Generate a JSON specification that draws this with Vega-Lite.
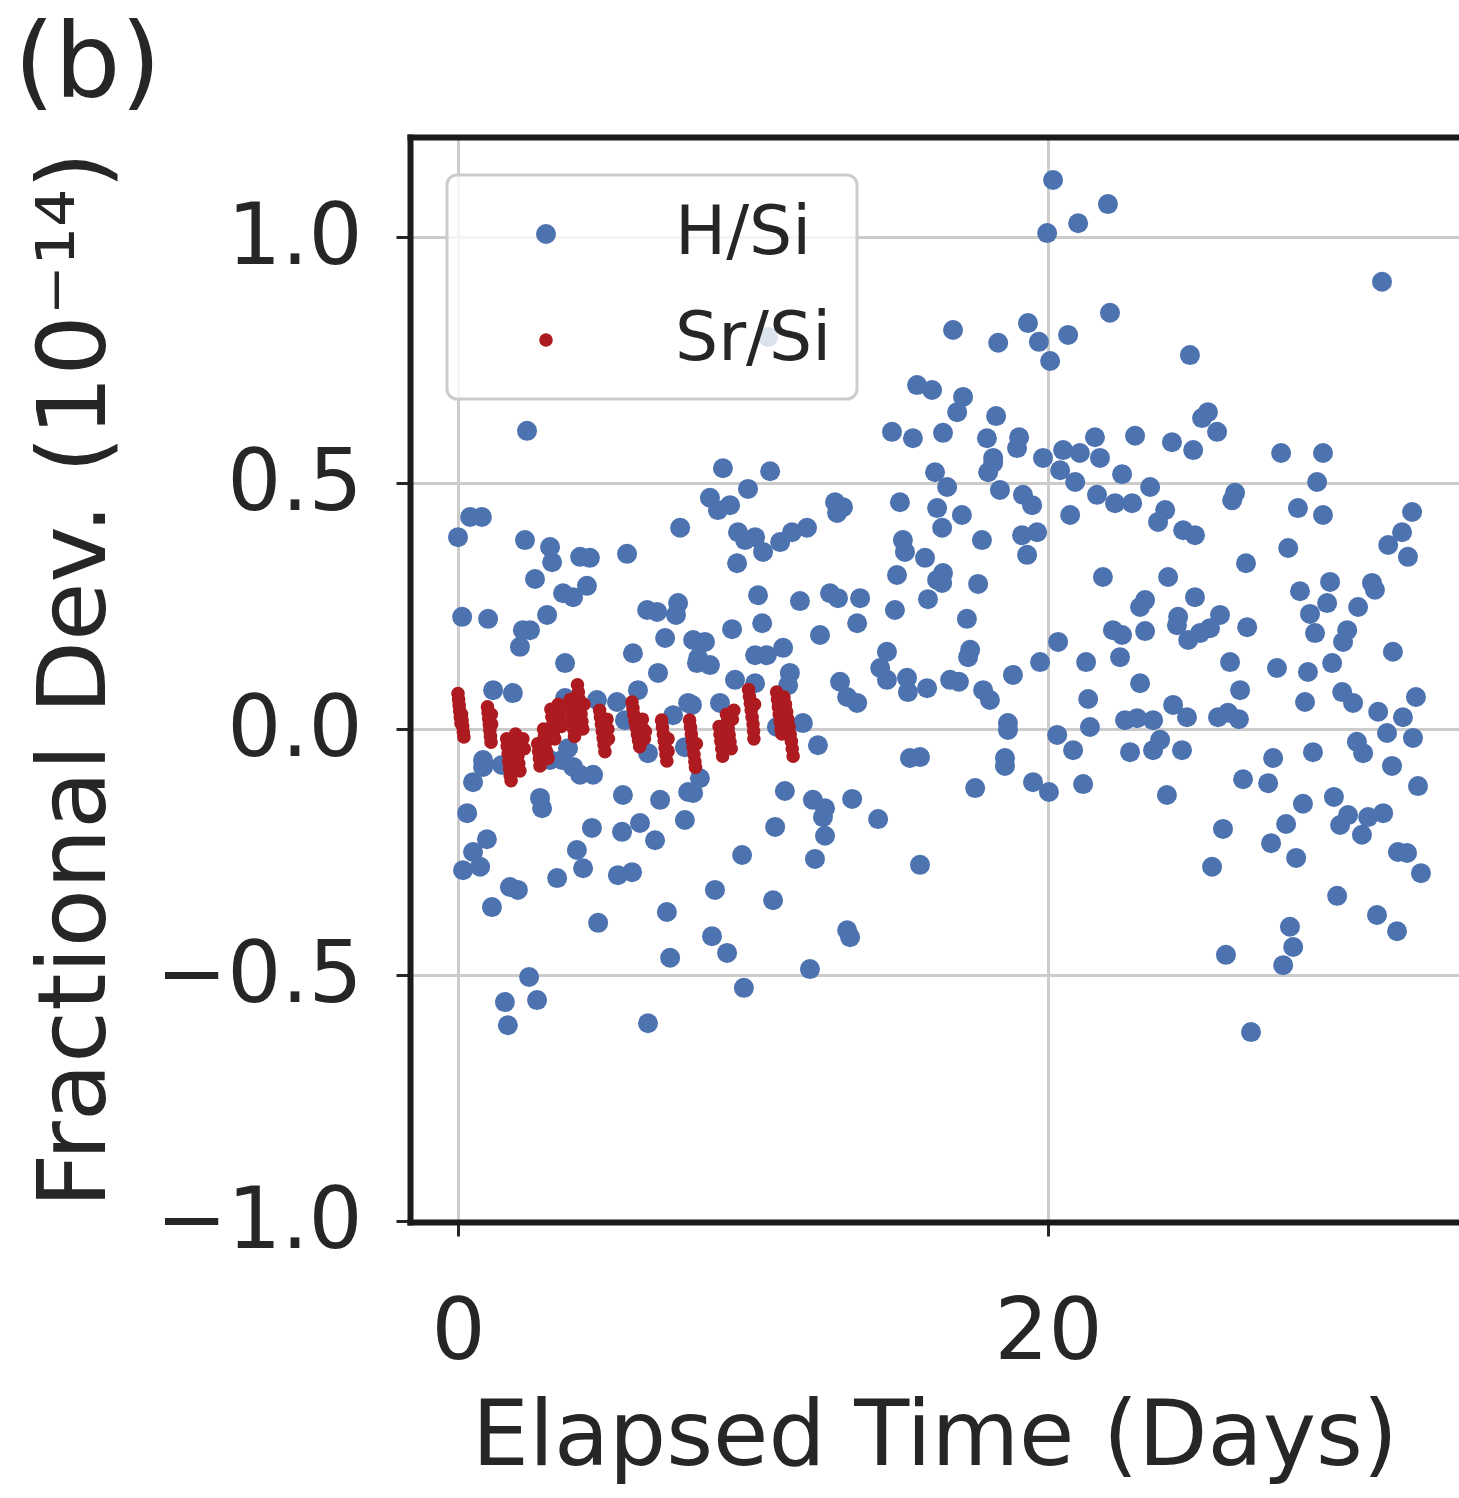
{
"$schema": "https://vega.github.io/schema/vega-lite/v6.json",
"width": 1049, "height": 1085,
"autosize": {"type": "none"},
"padding": {"left": 410, "top": 137, "right": 0, "bottom": 276},
"background": "white",
"title": {"text": "(b)", "anchor": "start", "frame": "group", "fontSize": 104, "font": "DejaVu Sans", "fontWeight": "normal", "color": "#262626", "offset": 42, "baseline": "alphabetic", "dx": -396, "dy": 106},
"data": {"values": [
{"t":0.41,"d":0.431,"s":"H/Si"},{"t":0.81,"d":0.431,"s":"H/Si"},{"t":0.0,"d":0.39,"s":"H/Si"},{"t":2.27,"d":0.384,"s":"H/Si"},{"t":3.12,"d":0.37,"s":"H/Si"},{"t":3.19,"d":0.339,"s":"H/Si"},{"t":4.14,"d":0.35,"s":"H/Si"},{"t":4.47,"d":0.348,"s":"H/Si"},{"t":5.73,"d":0.356,"s":"H/Si"},{"t":7.53,"d":0.409,"s":"H/Si"},
{"t":2.61,"d":0.305,"s":"H/Si"},{"t":3.56,"d":0.276,"s":"H/Si"},{"t":3.9,"d":0.268,"s":"H/Si"},{"t":4.37,"d":0.291,"s":"H/Si"},{"t":0.14,"d":0.228,"s":"H/Si"},{"t":1.02,"d":0.224,"s":"H/Si"},{"t":3.02,"d":0.232,"s":"H/Si"},{"t":2.2,"d":0.201,"s":"H/Si"},{"t":2.44,"d":0.201,"s":"H/Si"},{"t":2.1,"d":0.167,"s":"H/Si"},
{"t":3.63,"d":0.134,"s":"H/Si"},{"t":5.93,"d":0.154,"s":"H/Si"},{"t":6.41,"d":0.242,"s":"H/Si"},{"t":6.75,"d":0.238,"s":"H/Si"},{"t":7.46,"d":0.256,"s":"H/Si"},{"t":7.39,"d":0.232,"s":"H/Si"},{"t":7.02,"d":0.185,"s":"H/Si"},{"t":7.97,"d":0.181,"s":"H/Si"},{"t":8.1,"d":0.134,"s":"H/Si"},{"t":6.78,"d":0.114,"s":"H/Si"},
{"t":1.19,"d":0.079,"s":"H/Si"},{"t":1.86,"d":0.073,"s":"H/Si"},{"t":6.1,"d":0.079,"s":"H/Si"},{"t":7.8,"d":0.053,"s":"H/Si"},{"t":7.29,"d":0.028,"s":"H/Si"},{"t":5.39,"d":0.055,"s":"H/Si"},{"t":4.71,"d":0.059,"s":"H/Si"},{"t":3.63,"d":0.063,"s":"H/Si"},{"t":5.66,"d":0.018,"s":"H/Si"},{"t":3.73,"d":-0.039,"s":"H/Si"},
{"t":0.85,"d":-0.063,"s":"H/Si"},{"t":6.44,"d":-0.049,"s":"H/Si"},{"t":7.69,"d":-0.037,"s":"H/Si"},{"t":0.51,"d":-0.108,"s":"H/Si"},{"t":0.85,"d":-0.077,"s":"H/Si"},{"t":1.49,"d":-0.073,"s":"H/Si"},{"t":0.31,"d":-0.171,"s":"H/Si"},{"t":0.98,"d":-0.224,"s":"H/Si"},{"t":0.51,"d":-0.25,"s":"H/Si"},{"t":0.17,"d":-0.287,"s":"H/Si"},
{"t":0.75,"d":-0.28,"s":"H/Si"},{"t":1.76,"d":-0.321,"s":"H/Si"},{"t":2.03,"d":-0.327,"s":"H/Si"},{"t":1.15,"d":-0.362,"s":"H/Si"},{"t":2.78,"d":-0.14,"s":"H/Si"},{"t":2.85,"d":-0.161,"s":"H/Si"},{"t":3.36,"d":-0.303,"s":"H/Si"},{"t":4.03,"d":-0.246,"s":"H/Si"},{"t":4.24,"d":-0.283,"s":"H/Si"},{"t":4.54,"d":-0.201,"s":"H/Si"},
{"t":5.56,"d":-0.209,"s":"H/Si"},{"t":6.17,"d":-0.191,"s":"H/Si"},{"t":5.59,"d":-0.134,"s":"H/Si"},{"t":6.85,"d":-0.144,"s":"H/Si"},{"t":6.68,"d":-0.226,"s":"H/Si"},{"t":5.42,"d":-0.297,"s":"H/Si"},{"t":5.9,"d":-0.291,"s":"H/Si"},{"t":4.75,"d":-0.394,"s":"H/Si"},{"t":7.08,"d":-0.372,"s":"H/Si"},{"t":7.19,"d":-0.465,"s":"H/Si"},
{"t":7.69,"d":-0.185,"s":"H/Si"},{"t":7.8,"d":-0.128,"s":"H/Si"},{"t":2.41,"d":-0.504,"s":"H/Si"},{"t":1.59,"d":-0.555,"s":"H/Si"},{"t":2.68,"d":-0.551,"s":"H/Si"},{"t":1.69,"d":-0.602,"s":"H/Si"},{"t":6.44,"d":-0.598,"s":"H/Si"},{"t":4.14,"d":-0.093,"s":"H/Si"},{"t":4.58,"d":-0.093,"s":"H/Si"},{"t":3.12,"d":-0.063,"s":"H/Si"},
{"t":3.53,"d":-0.063,"s":"H/Si"},{"t":3.9,"d":-0.077,"s":"H/Si"},{"t":2.34,"d":0.606,"s":"H/Si"},{"t":10.51,"d":0.797,"s":"H/Si"},{"t":16.78,"d":0.811,"s":"H/Si"},{"t":15.56,"d":0.699,"s":"H/Si"},{"t":16.07,"d":0.689,"s":"H/Si"},{"t":14.71,"d":0.604,"s":"H/Si"},{"t":15.42,"d":0.591,"s":"H/Si"},{"t":16.44,"d":0.602,"s":"H/Si"},
{"t":8.98,"d":0.53,"s":"H/Si"},{"t":10.58,"d":0.524,"s":"H/Si"},{"t":16.17,"d":0.522,"s":"H/Si"},{"t":20.17,"d":1.116,"s":"H/Si"},{"t":22.03,"d":1.067,"s":"H/Si"},{"t":21.02,"d":1.028,"s":"H/Si"},{"t":19.97,"d":1.008,"s":"H/Si"},{"t":22.1,"d":0.846,"s":"H/Si"},{"t":19.32,"d":0.825,"s":"H/Si"},{"t":18.31,"d":0.785,"s":"H/Si"},
{"t":19.69,"d":0.787,"s":"H/Si"},{"t":20.68,"d":0.801,"s":"H/Si"},{"t":20.07,"d":0.748,"s":"H/Si"},{"t":24.81,"d":0.76,"s":"H/Si"},{"t":17.12,"d":0.675,"s":"H/Si"},{"t":16.92,"d":0.644,"s":"H/Si"},{"t":18.24,"d":0.636,"s":"H/Si"},{"t":17.93,"d":0.591,"s":"H/Si"},{"t":19.02,"d":0.593,"s":"H/Si"},{"t":18.95,"d":0.571,"s":"H/Si"},
{"t":18.14,"d":0.551,"s":"H/Si"},{"t":19.83,"d":0.551,"s":"H/Si"},{"t":20.51,"d":0.567,"s":"H/Si"},{"t":21.08,"d":0.561,"s":"H/Si"},{"t":21.59,"d":0.593,"s":"H/Si"},{"t":21.76,"d":0.551,"s":"H/Si"},{"t":22.95,"d":0.596,"s":"H/Si"},{"t":24.2,"d":0.583,"s":"H/Si"},{"t":24.92,"d":0.567,"s":"H/Si"},{"t":25.42,"d":0.644,"s":"H/Si"},
{"t":25.22,"d":0.632,"s":"H/Si"},{"t":25.73,"d":0.604,"s":"H/Si"},{"t":27.9,"d":0.561,"s":"H/Si"},{"t":29.32,"d":0.561,"s":"H/Si"},{"t":31.32,"d":0.909,"s":"H/Si"},{"t":9.83,"d":0.488,"s":"H/Si"},{"t":8.54,"d":0.47,"s":"H/Si"},{"t":8.81,"d":0.445,"s":"H/Si"},{"t":9.22,"d":0.455,"s":"H/Si"},{"t":12.78,"d":0.461,"s":"H/Si"},
{"t":12.85,"d":0.439,"s":"H/Si"},{"t":13.05,"d":0.451,"s":"H/Si"},{"t":14.98,"d":0.461,"s":"H/Si"},{"t":16.24,"d":0.449,"s":"H/Si"},{"t":16.58,"d":0.492,"s":"H/Si"},{"t":16.41,"d":0.409,"s":"H/Si"},{"t":9.49,"d":0.4,"s":"H/Si"},{"t":10.07,"d":0.39,"s":"H/Si"},{"t":9.73,"d":0.384,"s":"H/Si"},{"t":10.34,"d":0.36,"s":"H/Si"},
{"t":10.92,"d":0.38,"s":"H/Si"},{"t":11.32,"d":0.4,"s":"H/Si"},{"t":11.83,"d":0.409,"s":"H/Si"},{"t":9.46,"d":0.337,"s":"H/Si"},{"t":15.08,"d":0.384,"s":"H/Si"},{"t":15.15,"d":0.36,"s":"H/Si"},{"t":15.83,"d":0.348,"s":"H/Si"},{"t":14.88,"d":0.313,"s":"H/Si"},{"t":16.44,"d":0.317,"s":"H/Si"},{"t":16.24,"d":0.303,"s":"H/Si"},
{"t":10.17,"d":0.272,"s":"H/Si"},{"t":11.59,"d":0.26,"s":"H/Si"},{"t":12.61,"d":0.276,"s":"H/Si"},{"t":12.88,"d":0.266,"s":"H/Si"},{"t":13.63,"d":0.266,"s":"H/Si"},{"t":15.93,"d":0.264,"s":"H/Si"},{"t":14.81,"d":0.242,"s":"H/Si"},{"t":10.31,"d":0.215,"s":"H/Si"},{"t":9.29,"d":0.203,"s":"H/Si"},{"t":13.53,"d":0.215,"s":"H/Si"},
{"t":12.27,"d":0.191,"s":"H/Si"},{"t":8.37,"d":0.177,"s":"H/Si"},{"t":8.14,"d":0.144,"s":"H/Si"},{"t":8.54,"d":0.13,"s":"H/Si"},{"t":10.07,"d":0.15,"s":"H/Si"},{"t":10.47,"d":0.15,"s":"H/Si"},{"t":11.02,"d":0.165,"s":"H/Si"},{"t":14.54,"d":0.157,"s":"H/Si"},{"t":14.31,"d":0.124,"s":"H/Si"},{"t":14.54,"d":0.1,"s":"H/Si"},
{"t":15.22,"d":0.104,"s":"H/Si"},{"t":15.25,"d":0.075,"s":"H/Si"},{"t":15.9,"d":0.083,"s":"H/Si"},{"t":11.25,"d":0.114,"s":"H/Si"},{"t":11.19,"d":0.089,"s":"H/Si"},{"t":9.39,"d":0.1,"s":"H/Si"},{"t":10.07,"d":0.093,"s":"H/Si"},{"t":8.88,"d":0.053,"s":"H/Si"},{"t":7.93,"d":0.049,"s":"H/Si"},{"t":12.95,"d":0.096,"s":"H/Si"},
{"t":13.19,"d":0.065,"s":"H/Si"},{"t":13.53,"d":0.053,"s":"H/Si"},{"t":16.68,"d":0.1,"s":"H/Si"},{"t":11.69,"d":0.012,"s":"H/Si"},{"t":12.2,"d":-0.033,"s":"H/Si"},{"t":10.81,"d":0.004,"s":"H/Si"},{"t":15.66,"d":-0.057,"s":"H/Si"},{"t":15.32,"d":-0.059,"s":"H/Si"},{"t":17.97,"d":0.522,"s":"H/Si"},{"t":18.14,"d":0.541,"s":"H/Si"},
{"t":18.37,"d":0.486,"s":"H/Si"},{"t":19.15,"d":0.476,"s":"H/Si"},{"t":19.46,"d":0.455,"s":"H/Si"},{"t":17.08,"d":0.435,"s":"H/Si"},{"t":17.76,"d":0.384,"s":"H/Si"},{"t":19.12,"d":0.394,"s":"H/Si"},{"t":19.63,"d":0.4,"s":"H/Si"},{"t":19.29,"d":0.354,"s":"H/Si"},{"t":20.41,"d":0.526,"s":"H/Si"},{"t":20.92,"d":0.502,"s":"H/Si"},
{"t":21.66,"d":0.476,"s":"H/Si"},{"t":22.27,"d":0.459,"s":"H/Si"},{"t":22.85,"d":0.459,"s":"H/Si"},{"t":22.51,"d":0.518,"s":"H/Si"},{"t":23.46,"d":0.492,"s":"H/Si"},{"t":23.97,"d":0.445,"s":"H/Si"},{"t":23.73,"d":0.421,"s":"H/Si"},{"t":24.58,"d":0.404,"s":"H/Si"},{"t":24.98,"d":0.394,"s":"H/Si"},{"t":20.75,"d":0.435,"s":"H/Si"},
{"t":16.41,"d":0.297,"s":"H/Si"},{"t":17.63,"d":0.295,"s":"H/Si"},{"t":21.86,"d":0.309,"s":"H/Si"},{"t":24.07,"d":0.309,"s":"H/Si"},{"t":23.29,"d":0.262,"s":"H/Si"},{"t":23.12,"d":0.248,"s":"H/Si"},{"t":24.98,"d":0.268,"s":"H/Si"},{"t":24.41,"d":0.228,"s":"H/Si"},{"t":24.37,"d":0.211,"s":"H/Si"},{"t":24.75,"d":0.181,"s":"H/Si"},
{"t":22.2,"d":0.201,"s":"H/Si"},{"t":22.51,"d":0.191,"s":"H/Si"},{"t":23.29,"d":0.199,"s":"H/Si"},{"t":17.25,"d":0.224,"s":"H/Si"},{"t":17.36,"d":0.161,"s":"H/Si"},{"t":17.29,"d":0.146,"s":"H/Si"},{"t":20.34,"d":0.177,"s":"H/Si"},{"t":19.73,"d":0.136,"s":"H/Si"},{"t":21.29,"d":0.136,"s":"H/Si"},{"t":22.44,"d":0.146,"s":"H/Si"},
{"t":18.81,"d":0.11,"s":"H/Si"},{"t":16.98,"d":0.096,"s":"H/Si"},{"t":17.8,"d":0.079,"s":"H/Si"},{"t":18.03,"d":0.059,"s":"H/Si"},{"t":21.36,"d":0.061,"s":"H/Si"},{"t":23.12,"d":0.093,"s":"H/Si"},{"t":24.24,"d":0.049,"s":"H/Si"},{"t":24.71,"d":0.024,"s":"H/Si"},{"t":22.61,"d":0.018,"s":"H/Si"},{"t":23.02,"d":0.022,"s":"H/Si"},
{"t":23.56,"d":0.018,"s":"H/Si"},{"t":18.64,"d":0.012,"s":"H/Si"},{"t":18.64,"d":-0.002,"s":"H/Si"},{"t":21.42,"d":0.004,"s":"H/Si"},{"t":20.31,"d":-0.012,"s":"H/Si"},{"t":20.85,"d":-0.043,"s":"H/Si"},{"t":22.78,"d":-0.047,"s":"H/Si"},{"t":23.56,"d":-0.043,"s":"H/Si"},{"t":23.8,"d":-0.022,"s":"H/Si"},{"t":24.54,"d":-0.043,"s":"H/Si"},
{"t":18.54,"d":-0.059,"s":"H/Si"},{"t":26.34,"d":0.48,"s":"H/Si"},{"t":26.24,"d":0.465,"s":"H/Si"},{"t":29.12,"d":0.502,"s":"H/Si"},{"t":28.47,"d":0.449,"s":"H/Si"},{"t":29.32,"d":0.435,"s":"H/Si"},{"t":32.34,"d":0.441,"s":"H/Si"},{"t":32.0,"d":0.4,"s":"H/Si"},{"t":31.53,"d":0.374,"s":"H/Si"},{"t":32.2,"d":0.35,"s":"H/Si"},
{"t":28.14,"d":0.368,"s":"H/Si"},{"t":26.71,"d":0.337,"s":"H/Si"},{"t":29.56,"d":0.299,"s":"H/Si"},{"t":28.54,"d":0.28,"s":"H/Si"},{"t":30.98,"d":0.297,"s":"H/Si"},{"t":31.08,"d":0.283,"s":"H/Si"},{"t":29.46,"d":0.256,"s":"H/Si"},{"t":28.88,"d":0.234,"s":"H/Si"},{"t":29.05,"d":0.195,"s":"H/Si"},{"t":30.51,"d":0.248,"s":"H/Si"},
{"t":30.14,"d":0.201,"s":"H/Si"},{"t":30.0,"d":0.177,"s":"H/Si"},{"t":25.83,"d":0.232,"s":"H/Si"},{"t":25.49,"d":0.205,"s":"H/Si"},{"t":25.15,"d":0.195,"s":"H/Si"},{"t":26.75,"d":0.207,"s":"H/Si"},{"t":31.69,"d":0.157,"s":"H/Si"},{"t":26.17,"d":0.136,"s":"H/Si"},{"t":27.76,"d":0.124,"s":"H/Si"},{"t":28.81,"d":0.116,"s":"H/Si"},
{"t":29.63,"d":0.134,"s":"H/Si"},{"t":26.51,"d":0.079,"s":"H/Si"},{"t":29.97,"d":0.075,"s":"H/Si"},{"t":30.34,"d":0.053,"s":"H/Si"},{"t":28.71,"d":0.055,"s":"H/Si"},{"t":32.47,"d":0.065,"s":"H/Si"},{"t":25.76,"d":0.024,"s":"H/Si"},{"t":26.1,"d":0.033,"s":"H/Si"},{"t":26.47,"d":0.02,"s":"H/Si"},{"t":31.19,"d":0.035,"s":"H/Si"},
{"t":32.03,"d":0.024,"s":"H/Si"},{"t":31.49,"d":-0.008,"s":"H/Si"},{"t":32.37,"d":-0.018,"s":"H/Si"},{"t":30.47,"d":-0.026,"s":"H/Si"},{"t":30.68,"d":-0.049,"s":"H/Si"},{"t":28.98,"d":-0.047,"s":"H/Si"},{"t":27.63,"d":-0.059,"s":"H/Si"},{"t":8.2,"d":-0.1,"s":"H/Si"},{"t":7.97,"d":-0.13,"s":"H/Si"},{"t":11.08,"d":-0.126,"s":"H/Si"},
{"t":12.03,"d":-0.144,"s":"H/Si"},{"t":12.44,"d":-0.161,"s":"H/Si"},{"t":12.37,"d":-0.179,"s":"H/Si"},{"t":13.36,"d":-0.142,"s":"H/Si"},{"t":14.24,"d":-0.183,"s":"H/Si"},{"t":10.75,"d":-0.199,"s":"H/Si"},{"t":12.44,"d":-0.217,"s":"H/Si"},{"t":9.63,"d":-0.256,"s":"H/Si"},{"t":12.1,"d":-0.264,"s":"H/Si"},{"t":15.66,"d":-0.276,"s":"H/Si"},
{"t":8.71,"d":-0.327,"s":"H/Si"},{"t":10.68,"d":-0.348,"s":"H/Si"},{"t":8.61,"d":-0.421,"s":"H/Si"},{"t":9.12,"d":-0.455,"s":"H/Si"},{"t":13.19,"d":-0.409,"s":"H/Si"},{"t":13.29,"d":-0.423,"s":"H/Si"},{"t":11.93,"d":-0.488,"s":"H/Si"},{"t":9.69,"d":-0.526,"s":"H/Si"},{"t":17.53,"d":-0.12,"s":"H/Si"},{"t":18.54,"d":-0.075,"s":"H/Si"},
{"t":19.49,"d":-0.108,"s":"H/Si"},{"t":20.03,"d":-0.128,"s":"H/Si"},{"t":21.19,"d":-0.112,"s":"H/Si"},{"t":24.03,"d":-0.134,"s":"H/Si"},{"t":26.61,"d":-0.102,"s":"H/Si"},{"t":27.46,"d":-0.11,"s":"H/Si"},{"t":31.66,"d":-0.075,"s":"H/Si"},{"t":32.54,"d":-0.116,"s":"H/Si"},{"t":28.64,"d":-0.152,"s":"H/Si"},{"t":29.69,"d":-0.138,"s":"H/Si"},
{"t":30.17,"d":-0.175,"s":"H/Si"},{"t":29.9,"d":-0.195,"s":"H/Si"},{"t":30.85,"d":-0.179,"s":"H/Si"},{"t":31.36,"d":-0.171,"s":"H/Si"},{"t":30.64,"d":-0.215,"s":"H/Si"},{"t":25.93,"d":-0.203,"s":"H/Si"},{"t":28.07,"d":-0.193,"s":"H/Si"},{"t":27.56,"d":-0.232,"s":"H/Si"},{"t":28.41,"d":-0.262,"s":"H/Si"},{"t":25.56,"d":-0.28,"s":"H/Si"},
{"t":31.86,"d":-0.25,"s":"H/Si"},{"t":32.17,"d":-0.252,"s":"H/Si"},{"t":32.64,"d":-0.293,"s":"H/Si"},{"t":29.8,"d":-0.339,"s":"H/Si"},{"t":31.15,"d":-0.378,"s":"H/Si"},{"t":31.83,"d":-0.411,"s":"H/Si"},{"t":28.2,"d":-0.402,"s":"H/Si"},{"t":28.31,"d":-0.443,"s":"H/Si"},{"t":27.97,"d":-0.48,"s":"H/Si"},{"t":26.03,"d":-0.459,"s":"H/Si"},
{"t":26.88,"d":-0.616,"s":"H/Si"},
{"t":0.0,"d":0.072,"s":"Sr/Si"},{"t":0.02,"d":0.06,"s":"Sr/Si"},{"t":0.04,"d":0.048,"s":"Sr/Si"},{"t":0.06,"d":0.036,"s":"Sr/Si"},{"t":0.08,"d":0.024,"s":"Sr/Si"},{"t":0.1,"d":0.012,"s":"Sr/Si"},{"t":0.12,"d":0.03,"s":"Sr/Si"},{"t":0.14,"d":0.018,"s":"Sr/Si"},{"t":0.16,"d":0.006,"s":"Sr/Si"},{"t":0.18,"d":-0.006,"s":"Sr/Si"},{"t":0.2,"d":-0.016,"s":"Sr/Si"},
{"t":1.0,"d":0.045,"s":"Sr/Si"},{"t":1.02,"d":0.033,"s":"Sr/Si"},{"t":1.04,"d":0.021,"s":"Sr/Si"},{"t":1.06,"d":0.009,"s":"Sr/Si"},{"t":1.08,"d":-0.003,"s":"Sr/Si"},{"t":1.1,"d":-0.015,"s":"Sr/Si"},{"t":1.12,"d":-0.027,"s":"Sr/Si"},{"t":1.14,"d":0.01,"s":"Sr/Si"},{"t":1.13,"d":0.03,"s":"Sr/Si"},
{"t":1.65,"d":-0.02,"s":"Sr/Si"},{"t":1.67,"d":-0.035,"s":"Sr/Si"},{"t":1.7,"d":-0.05,"s":"Sr/Si"},{"t":1.72,"d":-0.065,"s":"Sr/Si"},{"t":1.75,"d":-0.08,"s":"Sr/Si"},{"t":1.77,"d":-0.095,"s":"Sr/Si"},{"t":1.8,"d":-0.105,"s":"Sr/Si"},{"t":1.95,"d":-0.01,"s":"Sr/Si"},{"t":1.97,"d":-0.025,"s":"Sr/Si"},{"t":2.0,"d":-0.04,"s":"Sr/Si"},{"t":2.03,"d":-0.055,"s":"Sr/Si"},{"t":2.06,"d":-0.07,"s":"Sr/Si"},{"t":2.1,"d":-0.085,"s":"Sr/Si"},{"t":2.2,"d":-0.02,"s":"Sr/Si"},{"t":2.25,"d":-0.04,"s":"Sr/Si"},
{"t":2.7,"d":-0.03,"s":"Sr/Si"},{"t":2.73,"d":-0.045,"s":"Sr/Si"},{"t":2.76,"d":-0.06,"s":"Sr/Si"},{"t":2.78,"d":-0.075,"s":"Sr/Si"},{"t":2.9,"d":0.0,"s":"Sr/Si"},{"t":2.93,"d":-0.015,"s":"Sr/Si"},{"t":2.96,"d":-0.03,"s":"Sr/Si"},{"t":3.0,"d":-0.045,"s":"Sr/Si"},{"t":3.05,"d":-0.06,"s":"Sr/Si"},{"t":3.15,"d":0.04,"s":"Sr/Si"},{"t":3.18,"d":0.025,"s":"Sr/Si"},{"t":3.21,"d":0.01,"s":"Sr/Si"},{"t":3.24,"d":-0.005,"s":"Sr/Si"},{"t":3.28,"d":-0.02,"s":"Sr/Si"},{"t":3.4,"d":0.05,"s":"Sr/Si"},{"t":3.43,"d":0.035,"s":"Sr/Si"},{"t":3.46,"d":0.02,"s":"Sr/Si"},{"t":3.5,"d":0.005,"s":"Sr/Si"},
{"t":3.8,"d":0.06,"s":"Sr/Si"},{"t":3.83,"d":0.045,"s":"Sr/Si"},{"t":3.86,"d":0.03,"s":"Sr/Si"},{"t":3.89,"d":0.015,"s":"Sr/Si"},{"t":3.92,"d":0.0,"s":"Sr/Si"},{"t":3.95,"d":-0.015,"s":"Sr/Si"},{"t":4.05,"d":0.09,"s":"Sr/Si"},{"t":4.08,"d":0.075,"s":"Sr/Si"},{"t":4.11,"d":0.06,"s":"Sr/Si"},{"t":4.14,"d":0.045,"s":"Sr/Si"},{"t":4.17,"d":0.03,"s":"Sr/Si"},{"t":4.2,"d":0.015,"s":"Sr/Si"},{"t":4.23,"d":0.0,"s":"Sr/Si"},{"t":4.27,"d":0.05,"s":"Sr/Si"},
{"t":4.8,"d":0.038,"s":"Sr/Si"},{"t":4.83,"d":0.024,"s":"Sr/Si"},{"t":4.86,"d":0.01,"s":"Sr/Si"},{"t":4.89,"d":-0.004,"s":"Sr/Si"},{"t":4.92,"d":-0.018,"s":"Sr/Si"},{"t":4.95,"d":-0.032,"s":"Sr/Si"},{"t":4.98,"d":-0.046,"s":"Sr/Si"},{"t":5.05,"d":0.02,"s":"Sr/Si"},{"t":5.08,"d":0.0,"s":"Sr/Si"},{"t":5.1,"d":-0.02,"s":"Sr/Si"},
{"t":5.9,"d":0.055,"s":"Sr/Si"},{"t":5.93,"d":0.042,"s":"Sr/Si"},{"t":5.96,"d":0.029,"s":"Sr/Si"},{"t":6.0,"d":0.016,"s":"Sr/Si"},{"t":6.04,"d":0.003,"s":"Sr/Si"},{"t":6.08,"d":-0.01,"s":"Sr/Si"},{"t":6.12,"d":-0.023,"s":"Sr/Si"},{"t":6.16,"d":-0.036,"s":"Sr/Si"},{"t":6.25,"d":0.02,"s":"Sr/Si"},{"t":6.28,"d":0.0,"s":"Sr/Si"},{"t":6.32,"d":-0.02,"s":"Sr/Si"},{"t":6.35,"d":-0.005,"s":"Sr/Si"},
{"t":6.9,"d":0.018,"s":"Sr/Si"},{"t":6.93,"d":0.004,"s":"Sr/Si"},{"t":6.96,"d":-0.01,"s":"Sr/Si"},{"t":6.99,"d":-0.024,"s":"Sr/Si"},{"t":7.02,"d":-0.038,"s":"Sr/Si"},{"t":7.05,"d":-0.052,"s":"Sr/Si"},{"t":7.08,"d":-0.065,"s":"Sr/Si"},{"t":7.12,"d":-0.02,"s":"Sr/Si"},{"t":7.12,"d":-0.045,"s":"Sr/Si"},
{"t":7.85,"d":0.018,"s":"Sr/Si"},{"t":7.88,"d":0.004,"s":"Sr/Si"},{"t":7.91,"d":-0.01,"s":"Sr/Si"},{"t":7.94,"d":-0.024,"s":"Sr/Si"},{"t":7.97,"d":-0.038,"s":"Sr/Si"},{"t":8.0,"d":-0.052,"s":"Sr/Si"},{"t":8.03,"d":-0.066,"s":"Sr/Si"},{"t":8.05,"d":-0.078,"s":"Sr/Si"},{"t":8.08,"d":-0.03,"s":"Sr/Si"},
{"t":8.85,"d":0.005,"s":"Sr/Si"},{"t":8.88,"d":-0.01,"s":"Sr/Si"},{"t":8.91,"d":-0.025,"s":"Sr/Si"},{"t":8.94,"d":-0.04,"s":"Sr/Si"},{"t":8.97,"d":-0.055,"s":"Sr/Si"},{"t":9.1,"d":0.03,"s":"Sr/Si"},{"t":9.13,"d":0.016,"s":"Sr/Si"},{"t":9.16,"d":0.002,"s":"Sr/Si"},{"t":9.19,"d":-0.012,"s":"Sr/Si"},{"t":9.22,"d":-0.026,"s":"Sr/Si"},{"t":9.26,"d":-0.04,"s":"Sr/Si"},{"t":9.35,"d":0.038,"s":"Sr/Si"},{"t":9.3,"d":0.02,"s":"Sr/Si"},
{"t":9.85,"d":0.08,"s":"Sr/Si"},{"t":9.88,"d":0.066,"s":"Sr/Si"},{"t":9.91,"d":0.052,"s":"Sr/Si"},{"t":9.94,"d":0.038,"s":"Sr/Si"},{"t":9.97,"d":0.024,"s":"Sr/Si"},{"t":10.0,"d":0.01,"s":"Sr/Si"},{"t":10.02,"d":-0.004,"s":"Sr/Si"},{"t":10.03,"d":-0.02,"s":"Sr/Si"},{"t":10.05,"d":0.05,"s":"Sr/Si"},
{"t":10.8,"d":0.075,"s":"Sr/Si"},{"t":10.83,"d":0.06,"s":"Sr/Si"},{"t":10.86,"d":0.045,"s":"Sr/Si"},{"t":10.89,"d":0.03,"s":"Sr/Si"},{"t":10.92,"d":0.015,"s":"Sr/Si"},{"t":10.95,"d":0.0,"s":"Sr/Si"},{"t":10.98,"d":-0.01,"s":"Sr/Si"},{"t":11.05,"d":0.065,"s":"Sr/Si"},{"t":11.1,"d":0.05,"s":"Sr/Si"},{"t":11.14,"d":0.035,"s":"Sr/Si"},{"t":11.18,"d":0.02,"s":"Sr/Si"},{"t":11.22,"d":0.005,"s":"Sr/Si"},{"t":11.26,"d":-0.01,"s":"Sr/Si"},{"t":11.3,"d":-0.025,"s":"Sr/Si"},{"t":11.33,"d":-0.04,"s":"Sr/Si"},{"t":11.36,"d":-0.055,"s":"Sr/Si"}
]},
"layer": [
{
"mark": {"type": "point", "filled": true, "opacity": 1},
"encoding": {
"x": {"field": "t", "type": "quantitative", "scale": {"domain": [-1.627, 33.93], "nice": false, "zero": false}, "axis": {"values": [0, 20], "format": "d", "title": "Elapsed Time (Days)"}},
"y": {"field": "d", "type": "quantitative", "scale": {"domain": [-1.002, 1.2033], "nice": false, "zero": false}, "axis": {"values": [-1, -0.5, 0, 0.5, 1], "format": ".1f", "title": "Fractional Dev. (10⁻¹⁴)", "titleX": -335, "titleY": 542.5, "titleAngle": -90, "titleAlign": "center", "titleBaseline": "middle"}},
"color": {"field": "s", "type": "nominal", "scale": {"domain": ["H/Si", "Sr/Si"], "range": ["#4c72b0", "#ad1a1f"]}, "legend": {"title": null, "orient": "none", "legendX": 37, "legendY": 38}},
"size": {"field": "s", "type": "nominal", "scale": {"domain": ["H/Si", "Sr/Si"], "range": [400, 185]}, "legend": {"title": null, "orient": "none", "legendX": 37, "legendY": 38}}
}
},
{
"mark": {"type": "point", "opacity": 0},
"encoding": {
"x": {"field": "t", "type": "quantitative", "axis": {"orient": "top", "labels": false, "ticks": false, "grid": false, "title": null, "domain": true}}
}
}
],
"resolve": {"axis": {"x": "independent"}},
"config": {
"view": {"stroke": null},
"font": "DejaVu Sans",
"axis": {"labelFont": "DejaVu Sans", "labelFontSize": 85, "labelColor": "#262626", "labelLimit": 600, "titleFont": "DejaVu Sans", "titleFontSize": 90, "titleFontWeight": "normal", "titleColor": "#262626", "titleLimit": 2000, "tickColor": "#262626", "tickWidth": 3, "tickSize": 14, "domainColor": "#1a1a1a", "domainWidth": 6, "domainCap": "square", "gridColor": "#cccccc", "gridWidth": 3, "labelFlush": false, "labelOverlap": false},
"axisX": {"labelPadding": 55, "titlePadding": 18},
"axisY": {"labelPadding": 34, "titleFontSize": 95},
"legend": {"labelFont": "DejaVu Sans", "labelFontSize": 68, "labelColor": "#262626", "padding": 25, "rowPadding": 38, "symbolOffset": 40, "labelOffset": 95, "fillColor": "rgba(255,255,255,0.8)", "strokeColor": "#cccccc", "strokeWidth": 3, "cornerRadius": 10, "symbolStrokeWidth": 0}
}
}
